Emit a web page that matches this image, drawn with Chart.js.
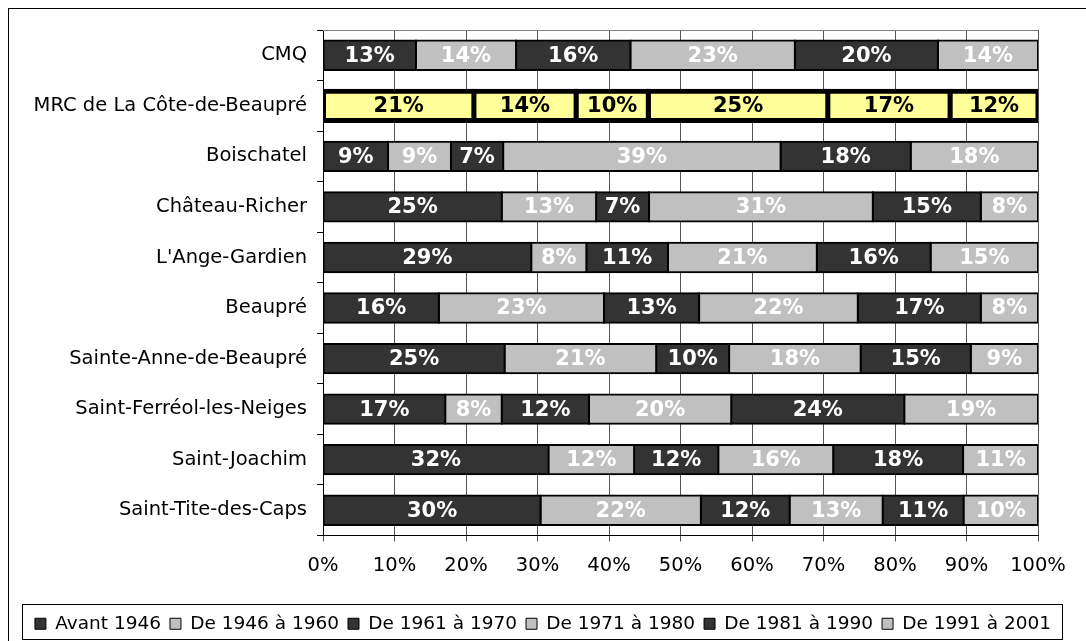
<!DOCTYPE html>
<html>
<head>
<meta charset="utf-8">
<script src="https://cdn.jsdelivr.net/npm/chart.js@4.4.0/dist/chart.umd.min.js"></script>
<style>
  html, body { margin: 0; padding: 0; background: #fff; }
  #wrap { width: 1086px; height: 641px; position: relative; }
</style>
</head>
<body>
<div id="wrap"><canvas id="myChart" width="1086" height="641"></canvas></div>
<script>
const categories = ['CMQ', 'MRC de La Côte-de-Beaupré', 'Boischatel', 'Château-Richer', "L'Ange-Gardien",
  'Beaupré', 'Sainte-Anne-de-Beaupré', 'Saint-Ferréol-les-Neiges', 'Saint-Joachim', 'Saint-Tite-des-Caps'];
const periods = ['Avant 1946', 'De 1946 à 1960', 'De 1961 à 1970', 'De 1971 à 1980', 'De 1981 à 1990', 'De 1991 à 2001'];

// share of dwellings by construction period (%)
const avant1946 = [13.0, 21.1, 9.1, 25.0, 29.1, 16.2, 25.4, 17.1, 31.6, 30.4];
const de1946    = [14.0, 14.3, 8.8, 13.2, 7.7, 23.1, 21.2, 7.9, 12.0, 22.4];
const de1961    = [16.0, 10.1, 7.3, 7.4, 11.4, 13.3, 10.2, 12.2, 11.8, 12.4];
const de1971    = [23.0, 25.1, 38.8, 31.3, 20.8, 22.2, 18.4, 19.9, 16.1, 13.0];
const de1981    = [20.0, 17.1, 18.2, 15.1, 15.9, 17.2, 15.4, 24.2, 18.2, 11.3];
const de1991    = [14.0, 12.3, 17.8, 8.0, 15.0, 8.0, 9.4, 18.7, 10.5, 10.4];
const xTicks = [0, 10, 20, 30, 40, 50, 60, 70, 80, 90, 100];

const series = [avant1946, de1946, de1961, de1971, de1981, de1991];
const DARK = '#333333';
const LIGHT = '#c0c0c0';
const MRC_FILL = '#ffff99';
const FONT = 'DejaVu Sans';

// 100% stacked: each row is scaled to total 100
var totals = categories.map((c, i) => series.reduce((s, arr) => s + arr[i], 0));

var datasets = series.map((arr, k) => {
  const col = k % 2 === 0 ? DARK : LIGHT;
  return {
    label: periods[k],
    raw: arr,
    data: arr.map((v, i) => v / totals[i] * 100),
    backgroundColor: ctx => ctx.dataIndex === 1 ? MRC_FILL : col,
    baseColor: col,
    borderColor: '#000000',
    borderWidth: ctx => ctx.dataIndex === 1 ? 5 : 2,
    inflateAmount: ctx => ctx.dataIndex === 1 ? 2.5 : 1,
    borderSkipped: false,
    categoryPercentage: 1.0,
    barPercentage: 0.58
  };
});

// labels inside each segment
const segmentLabels = {
  id: 'segmentLabels',
  afterDatasetsDraw(chart) {
    const ctx = chart.ctx;
    ctx.save();
    ctx.font = 'bold 21px "' + FONT + '"';
    ctx.textAlign = 'center';
    ctx.textBaseline = 'middle';
    chart.data.datasets.forEach((ds, k) => {
      chart.getDatasetMeta(k).data.forEach((el, i) => {
        ctx.fillStyle = i === 1 ? '#000000' : '#ffffff';
        ctx.fillText(Math.round(ds.raw[i]) + '%', (el.x + el.base) / 2, el.y + 1);
      });
    });
    ctx.restore();
  }
};

// frame, plot border and legend box
const frames = {
  id: 'frames',
  afterLayout(chart) {
    // nudge the legend so it sits centred in its box like the original
    const lg = chart.legend;
    lg.left += 24; lg.right += 24;
    lg.top += 2; lg.bottom += 2;
  },
  beforeDatasetsDraw(chart) {
    const a = chart.chartArea, ctx = chart.ctx;
    ctx.save();
    ctx.strokeStyle = '#808080';
    ctx.lineWidth = 1;
    ctx.beginPath();
    ctx.moveTo(a.left, Math.round(a.top) + 0.5);
    ctx.lineTo(a.right, Math.round(a.top) + 0.5);
    ctx.stroke();
    ctx.restore();
  },
  afterDraw(chart) {
    const ctx = chart.ctx;
    ctx.save();
    ctx.strokeStyle = '#000000';
    ctx.lineWidth = 1;
    ctx.strokeRect(8.5, 8.5, 1200, 800);
    ctx.strokeRect(22.5, 604.5, 1040, 35);
    ctx.restore();
  }
};

new Chart('myChart', {
  type: 'bar',
  data: { labels: categories, datasets: datasets },
  plugins: [segmentLabels, frames],
  options: {
    indexAxis: 'y',
    responsive: false,
    animation: false,
    devicePixelRatio: 1,
    layout: { padding: { left: 0, top: 30, right: 48, bottom: 0 } },
    scales: {
      x: {
        stacked: true,
        min: 0,
        max: 100,
        afterBuildTicks: s => { s.ticks = xTicks.map(v => ({ value: v })); },
        afterFit: s => { s.height = 68; },
        ticks: {
          callback: v => v + '%',
          color: '#000',
          font: { family: FONT, size: 19.5 },
          padding: 13,
          maxRotation: 0
        },
        grid: { color: '#555555', lineWidth: 1, tickLength: 6, drawTicks: true },
        border: { color: '#000000', width: 1 }
      },
      y: {
        stacked: true,
        afterFit: s => { s.width = 323; },
        ticks: {
          color: '#000',
          font: { family: FONT, size: 19.5 },
          padding: 10
        },
        grid: { drawOnChartArea: false, drawTicks: true, tickLength: 6, color: '#000000' },
        border: { color: '#000000', width: 1 }
      }
    },
    plugins: {
      tooltip: { enabled: false },
      legend: {
        position: 'bottom',
        labels: {
          color: '#000',
          font: { family: FONT, size: 18.5 },
          boxWidth: 11,
          boxHeight: 11,
          padding: 9,
          generateLabels: chart => chart.data.datasets.map((ds, k) => ({
            text: ds.label,
            fillStyle: ds.baseColor,
            strokeStyle: '#000000',
            lineWidth: 1,
            datasetIndex: k,
            hidden: false
          }))
        }
      }
    }
  }
});
</script>
</body>
</html>
